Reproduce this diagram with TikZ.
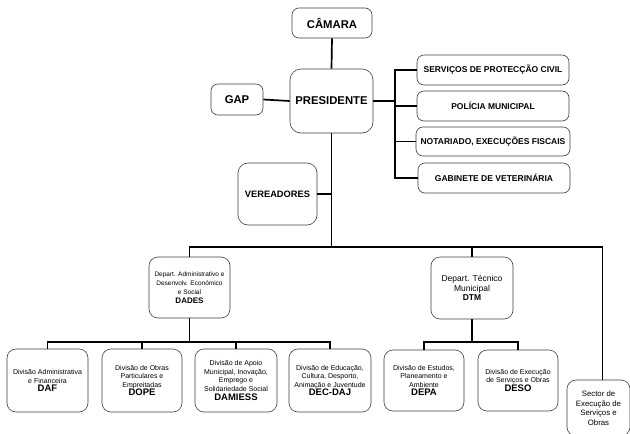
\documentclass[tikz,border=0pt]{standalone}
\usepackage{fontspec}
\setmainfont{Liberation Sans}
\begin{document}
\begin{tikzpicture}[x=1pt,y=-1pt,
  bx/.style={draw=black!75, line width=0.6pt, rounded corners=7pt, inner sep=0.5pt, align=center, text=black},
  conn/.style={line width=1.7pt, line join=miter},
  big/.style={font=\fontsize{11.3}{13}\selectfont\bfseries},
  side/.style={font=\fontsize{8.5}{10}\selectfont\bfseries, minimum width=152pt, minimum height=30pt},
  dep/.style={font=\fontsize{6.5}{9}\selectfont, minimum width=81pt, minimum height=61pt},
  div/.style={font=\fontsize{7}{8.6}\selectfont, minimum width=81pt, minimum height=63pt}
]
\useasboundingbox (0,0) rectangle (630,434);
\fill[white] (0,0) rectangle (630,434);
\clip (0,0) rectangle (630,434);

% top level
\node[bx, big, minimum width=80pt, minimum height=30pt] (cam) at (332,23) {CÂMARA};
\node[bx, big, rounded corners=11pt, minimum width=83pt, minimum height=64pt] (pres) at (331.5,101) {PRESIDENTE};
\node[bx, big, minimum width=52pt, minimum height=31pt] (gap) at (237,99.5) {GAP};
\node[bx, font=\fontsize{9.3}{11}\selectfont\bfseries, rounded corners=10pt, minimum width=79pt, minimum height=62pt] (ver) at (277.5,194) {VEREADORES};

% side services
\node[bx, side] (serv) at (493,70) {SERVIÇOS DE PROTECÇÃO CIVIL};
\node[bx, side] (pol) at (493,106) {POLÍCIA MUNICIPAL};
\node[bx, side, minimum width=154pt, minimum height=29pt] (not) at (493,141.5) {NOTARIADO, EXECUÇÕES FISCAIS};
\node[bx, side] (gab) at (494,178) {GABINETE DE VETERINÁRIA};

% departments
\node[bx, dep, rounded corners=9pt] (dades) at (189.5,287.5) {Depart. Administrativo e\\Desenvolv. Económico\\e Social\\{\fontsize{8}{10}\selectfont\bfseries DADES}};
\node[bx, dep, rounded corners=9pt, font=\fontsize{8.5}{9.6}\selectfont, minimum width=82pt, minimum height=62pt] (dtm) at (472,288) {Depart. Técnico\\Municipal\\{\bfseries DTM}};

% divisions
\node[bx, div, rounded corners=9pt] (daf) at (47.5,380.5) {Divisão Administrativa\\e Financeira\\{\fontsize{9.5}{11}\selectfont\bfseries DAF}};
\node[bx, div, rounded corners=9pt, minimum width=80pt] (dope) at (142,380.5) {Divisão de Obras\\Particulares e\\Empreitadas\\{\fontsize{9.5}{11}\selectfont\bfseries DOPE}};
\node[bx, div, rounded corners=9pt, minimum width=82pt] (damiess) at (236,380.5) {Divisão de Apoio\\Municipal, Inovação,\\Emprego e\\Solidariedade Social\\{\fontsize{9.5}{11}\selectfont\bfseries DAMIESS}};
\node[bx, div, rounded corners=9pt, minimum width=82pt] (decdaj) at (330,380.5) {Divisão de Educação,\\Cultura, Desporto,\\Animação e Juventude\\{\fontsize{9.5}{11}\selectfont\bfseries DEC-DAJ}};
\node[bx, div, rounded corners=9pt, minimum width=80pt, minimum height=61pt] (depa) at (424,380.5) {Divisão de Estudos,\\Planeamento e\\Ambiente\\{\fontsize{9.5}{11}\selectfont\bfseries DEPA}};
\node[bx, div, rounded corners=9pt, minimum width=80pt, minimum height=61pt] (deso) at (518,380.5) {Divisão de Execução\\de Serviços e Obras\\{\fontsize{9.5}{11}\selectfont\bfseries DESO}};
\node[bx, rounded corners=9pt, font=\fontsize{7.8}{9.5}\selectfont, minimum width=63pt, minimum height=56pt] (sector) at (598.5,408) {Sector de\\Execução de\\Serviços e\\Obras};

% junction coordinates
\coordinate (rbus) at (395,100);
\coordinate (tb) at (331.5,247);
\coordinate (lb) at (189.5,342);
\coordinate (rb) at (472,342);
\coordinate (stop) at (602.5,380);

% connectors
\draw[conn] (cam.south) -- (pres.north);
\draw[conn] (gap.east) -- (pres.west);
\draw[conn] (pres.east) -- (pres.east -| rbus);
\draw[conn] (serv.west) -- (serv.west -| rbus) |- (gab.west);
\draw[conn] (pol.west) -- (pol.west -| rbus);
\draw[conn] (not.west) -- (not.west -| rbus);
\draw[conn] (pres.south) -- (tb);
\draw[conn] (ver.east) -- (ver.east -| tb);
\draw[conn] (dades.north) |- (tb) -| (stop);
\draw[conn] (dtm.north) -- (dtm.north |- tb);
\draw[conn] (dades.south) -- (lb);
\draw[conn] (daf.north) |- (lb) -| (decdaj.north);
\draw[conn] (dope.north) -- (dope.north |- lb);
\draw[conn] (damiess.north) -- (damiess.north |- lb);
\draw[conn] (dtm.south) -- (rb);
\draw[conn] (depa.north) |- (rb) -| (deso.north);
\end{tikzpicture}
\end{document}
